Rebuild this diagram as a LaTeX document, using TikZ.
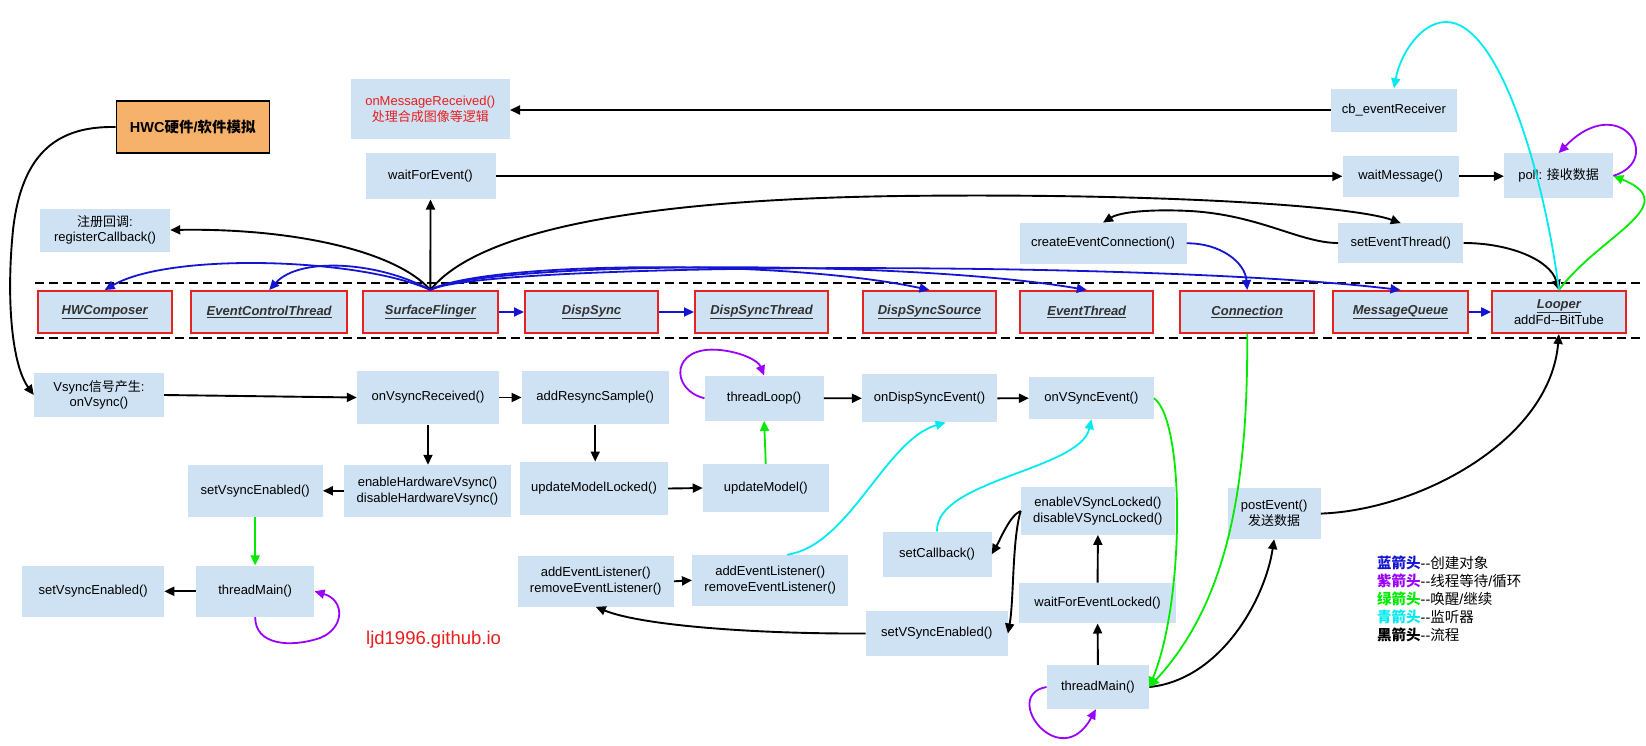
\documentclass[tikz,border=0pt]{standalone}
\usepackage{fontspec}
\setmainfont{Liberation Sans}
\newfontfamily\cjk{Noto Sans CJK SC}
\newcommand\zh[1]{{\cjk #1}}
\usetikzlibrary{arrows.meta,calc}
\definecolor{boxblue}{HTML}{CFE2F3}
\definecolor{hwcorange}{HTML}{F6B26B}
\definecolor{rbord}{RGB}{230,35,35}
\definecolor{rtext}{RGB}{232,30,30}
\definecolor{ablue}{RGB}{20,20,210}
\definecolor{apurple}{RGB}{153,0,255}
\definecolor{agreen}{RGB}{0,235,0}
\definecolor{acyan}{RGB}{0,235,240}
\definecolor{dgray}{RGB}{50,50,50}
\begin{document}
\begin{tikzpicture}[x=1pt,y=-1pt,
  box/.style 2 args={fill=boxblue, inner sep=0pt, align=center, minimum width=#1, minimum height=#2, font=\fontsize{13}{15.7}\selectfont},
  cls/.style={fill=boxblue, draw=rbord, line width=1.8pt, inner sep=0pt, align=center, minimum width=#1, minimum height=42.2pt, font=\fontsize{13}{15.7}\selectfont\bfseries\itshape, text=dgray},
  sep/.style={draw=black, line width=1.8pt, dash pattern=on 9pt off 5pt},
  blk/.style={draw=black, line width=1.9pt, -{Triangle[length=10pt,width=9pt]}},
  blu/.style={draw=ablue, line width=1.8pt, -{Triangle[length=10pt,width=9pt]}},
  grn/.style={draw=agreen, line width=1.8pt, -{Triangle[length=10pt,width=9pt]}},
  pur/.style={draw=apurple, line width=1.8pt, -{Triangle[length=10pt,width=9pt]}},
  cyn/.style={draw=acyan, line width=1.8pt, -{Triangle[length=10pt,width=9pt]}}
]
\useasboundingbox (0,0) rectangle (1646,745);

% separators
\draw[sep] (35,282.7) -- (1640,282.7);
\draw[sep] (35,338.3) -- (1640,338.3);

% top nodes
\node[box={153pt}{52pt}, fill=hwcorange, draw=black, line width=1.2pt, font=\fontsize{14.5}{16}\selectfont\bfseries] (hwc) at (192.7,127) {HWC\zh{硬件}/\zh{软件模拟}};
\node[box={159pt}{60pt}, text=rtext] (onmsg) at (430.3,109.3) {onMessageReceived()\\\zh{处理合成图像等逻辑}};
\node[box={130pt}{46pt}] (wfe) at (430.5,176.3) {waitForEvent()};
\node[box={130pt}{43pt}] (regcb) at (105,230) {\zh{注册回调}:\\registerCallback()};
\node[box={126pt}{43pt}] (cbrecv) at (1394,110) {cb\_eventReceiver};
\node[box={116pt}{41pt}] (waitmsg) at (1400.6,176.2) {waitMessage()};
\node[box={109pt}{45pt}] (poll) at (1558.6,175.8) {poll: \zh{接收数据}};
\node[box={167pt}{41pt}] (cec) at (1103,243.3) {createEventConnection()};
\node[box={125pt}{39.5pt}] (setet) at (1400.8,243) {setEventThread()};

% class boxes
\node[cls=134pt] (chwc) at (104.7,312) {\underline{HWComposer}};
\node[cls=156pt] (cect) at (269.2,312) {\underline{EventControlThread}};
\node[cls=135.3pt] (csf) at (430.4,312) {\underline{SurfaceFlinger}};
\node[cls=133.4pt] (cds) at (591.6,312) {\underline{DispSync}};
\node[cls=133.4pt] (cdst) at (761.6,312) {\underline{DispSyncThread}};
\node[cls=133.3pt] (cdss) at (929.5,312) {\underline{DispSyncSource}};
\node[cls=133pt] (cet) at (1086.8,312) {\underline{EventThread}};
\node[cls=133.7pt] (cconn) at (1247.2,312) {\underline{Connection}};
\node[cls=134.4pt] (cmq) at (1400.5,312) {\underline{MessageQueue}};
\node[cls=133.7pt] (clp) at (1558.9,312) {\underline{Looper}\\{\normalfont\fontsize{13}{15.7}\selectfont\color{black}addFd-{}-BitTube}};

% bottom nodes
\node[box={130pt}{43.4pt}] (vsync) at (99,395) {Vsync\zh{信号产生}:\\onVsync()};
\node[box={142pt}{53.6pt}] (onvr) at (428,397.5) {onVsyncReceived()};
\node[box={146.8pt}{53.6pt}] (ars) at (595.2,397.5) {addResyncSample()};
\node[box={119pt}{45pt}] (tloop) at (764.1,398.2) {threadLoop()};
\node[box={135pt}{48pt}] (odse) at (929.6,398.3) {onDispSyncEvent()};
\node[box={124.6pt}{41.7pt}] (ovse) at (1091.4,398.2) {onVSyncEvent()};
\node[box={167pt}{51.7pt}] (ehv) at (427.5,490.8) {enableHardwareVsync()\\disableHardwareVsync()};
\node[box={135pt}{51.7pt}] (svu) at (255.2,490.8) {setVsyncEnabled()};
\node[box={148pt}{53.6pt}] (uml) at (594,488.5) {updateModelLocked()};
\node[box={125.7pt}{48pt}] (umod) at (765.8,488) {updateModel()};
\node[box={141.7pt}{51.3pt}] (svl) at (93.2,591.3) {setVsyncEnabled()};
\node[box={118.3pt}{51.3pt}] (tml) at (255.2,591.3) {threadMain()};
\node[box={156.4pt}{50.7pt}] (ael1) at (595.7,581.3) {addEventListener()\\removeEventListener()};
\node[box={156.1pt}{50.7pt}] (ael2) at (770.2,580.3) {addEventListener()\\removeEventListener()};
\node[box={109pt}{45pt}] (scb) at (937,554.2) {setCallback()};
\node[box={141.8pt}{45.7pt}] (svm) at (936.8,633.5) {setVSyncEnabled()};
\node[box={154pt}{47.4pt}] (evl) at (1097.9,511) {enableVSyncLocked()\\disableVSyncLocked()};
\node[box={156.6pt}{40.6pt}] (wfel) at (1097.6,603) {waitForEventLocked()};
\node[box={102.3pt}{44pt}] (tmb) at (1097.9,687) {threadMain()};
\node[box={93pt}{50.7pt}] (pev) at (1274.1,513.6) {postEvent()\\\zh{发送数据}};

% watermark and legend
\node[anchor=west, inner sep=0pt, text=rtext, font=\fontsize{18.5}{20}\selectfont] (wmk) at (366,640) {ljd1996.github.io};
\node[anchor=north west, inner sep=0pt, align=left, font=\fontsize{14.5}{18}\selectfont] (legend) at (1377,556) {%
\textcolor{ablue}{\bfseries\zh{蓝箭头}}-{}-\zh{创建对象}\\
\textcolor{apurple}{\bfseries\zh{紫箭头}}-{}-\zh{线程等待}/\zh{循环}\\
\textcolor{agreen}{\bfseries\zh{绿箭头}}-{}-\zh{唤醒}/\zh{继续}\\
\textcolor{acyan}{\bfseries\zh{青箭头}}-{}-\zh{监听器}\\
{\bfseries\zh{黑箭头}}-{}-\zh{流程}};

% black straight arrows
\draw[blk] (cbrecv.west) -- (cbrecv.west -| onmsg.east);
\draw[blk] (wfe.east) -- (wfe.east -| waitmsg.west);
\draw[blk] (waitmsg.east) -- (waitmsg.east -| poll.west);
\draw[blk] (csf.north) -- (wfe.south);
\draw[blk] (vsync.east) -- (onvr.west);
\draw[blk] (onvr.east) -- (ars.west);
\draw[blk] (onvr.south) -- (onvr.south |- ehv.north);
\draw[blk] (ehv.west) -- (svu.east);
\draw[blk] (tml.west) -- (svl.east);
\draw[blk] (ars.south) -- (ars.south |- uml.north);
\draw[blk] (uml.east) -- (umod.west);
\draw[blk] (ael1.east) -- (ael2.west);
\draw[blk] (tloop.east) -- (odse.west);
\draw[blk] (odse.east) -- (ovse.west);
\draw[blk] (tmb.north) -- (wfel.south);
\draw[blk] (wfel.north) -- (evl.south);

% black curves
\draw[blk] (hwc.west) .. controls (60,126) and (22,150) .. (13,230) .. controls (6,300) and (12,365) .. (vsync.west);
\draw[blk] (csf.north) .. controls (395,250) and (290,228) .. (regcb.east);
\draw[blk] (csf.north) .. controls (470,240) and (600,200) .. (900,196) .. controls (1150,193) and (1350,205) .. (setet.north);
\draw[blk] (setet.west) .. controls (1300,243) and (1260,215) .. (1190,211) .. controls (1150,209) and (1120,212) .. (cec.north);
\draw[blk] (setet.east) .. controls (1510,243) and (1550,260) .. (clp.north);
\draw[blk] (tmb.east) .. controls (1220,680) and (1265,600) .. (pev.south);
\draw[blk] (pev.east) .. controls (1420,510) and (1550,440) .. (clp.south);
\draw[blk] (svm.west) .. controls (750,634) and (640,625) .. (ael1.south);
\draw[blk] (evl.west) .. controls (1010,515) and (1000,540) .. (scb.east);
\draw[blk] (evl.west) .. controls (1012,540) and (1014,600) .. (svm.east);

% blue
\draw[blu] (csf.east) -- (cds.west);
\draw[blu] (cds.east) -- (cdst.west);
\draw[blu] (cmq.east) -- (clp.west);
\draw[blu] (csf.north) .. controls (360,258) and (170,252) .. (chwc.north);
\draw[blu] (csf.north) .. controls (380,262) and (300,256) .. (cect.north);
\draw[blu] (csf.north) .. controls (480,262) and (780,258) .. (cdss.north);
\draw[blu] (csf.north) .. controls (480,262) and (900,258) .. (cet.north);
\draw[blu] (csf.north) .. controls (480,262) and (1150,260) .. (cmq.north);
\draw[blu] (cec.east) .. controls (1220,243) and (1245,262) .. (cconn.north);

% green
\draw[grn] (svu.south) -- (tml.north);
\draw[grn] (umod.north) -- (tloop.south);
\draw[grn] (ovse.east) .. controls (1185,420) and (1185,600) .. (tmb.east);
\draw[grn] (cconn.south) .. controls (1248,480) and (1230,600) .. (tmb.east);
\draw[grn] (clp.north) .. controls (1600,235) and (1685,205) .. (poll.east);

% cyan
\draw[cyn] (clp.north) .. controls (1545,180) and (1500,20) .. (1445,22) .. controls (1420,23) and (1400,55) .. (cbrecv.north);
\draw[cyn] (scb.north) .. controls (935,480) and (1080,470) .. (ovse.south);
\draw[cyn] ($(ael2.north)+(17,0)$) .. controls (850,545) and (885,440) .. ($(odse.south)+(16,0)$);

% purple loops
\draw[pur] (poll.east) .. controls (1665,160) and (1620,90) .. (poll.north);
\draw[pur] (tmb.west) .. controls (1000,695) and (1060,775) .. ($(tmb.south)+(-2,0)$);
\draw[pur] (tml.south) .. controls (255,645) and (290,648) .. (320,638) .. controls (345,628) and (345,600) .. (tml.east);
\draw[pur] (tloop.west) .. controls (670,390) and (670,345) .. (720,350) .. controls (740,352) and (758,360) .. (tloop.north);
\end{tikzpicture}
\end{document}
